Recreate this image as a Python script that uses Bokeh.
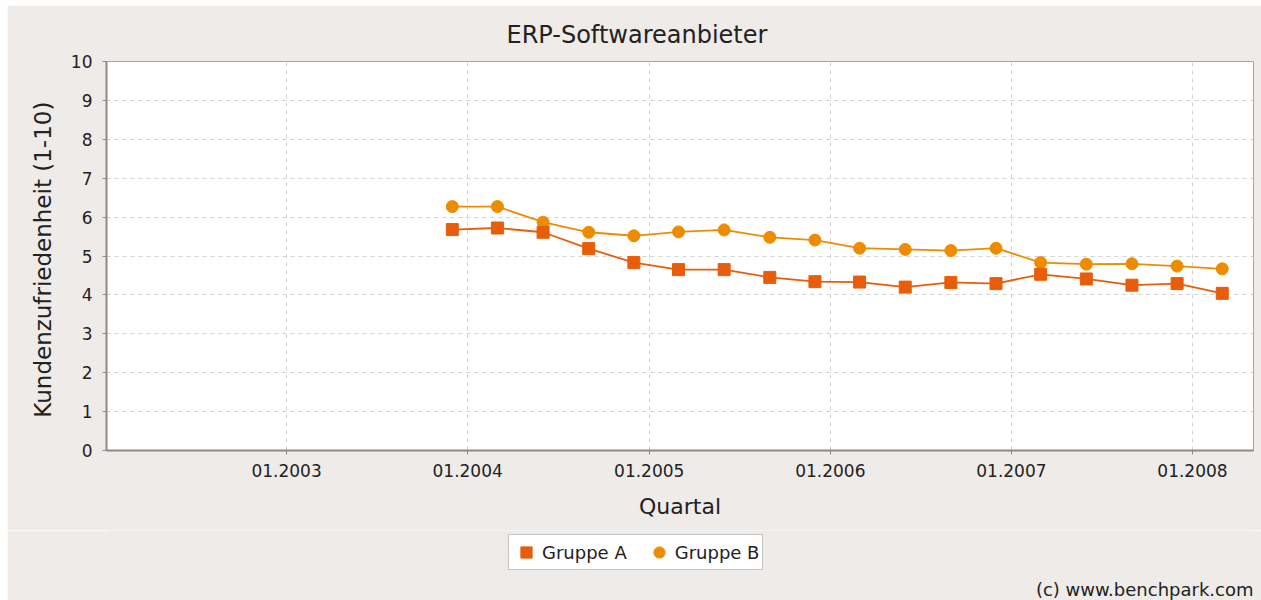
import pandas as pd
from bokeh.plotting import figure
from bokeh.layouts import column, row
from bokeh.models import (ColumnDataSource, FixedTicker, DatetimeTickFormatter, Range1d,
                          Legend, LegendItem, Label, Spacer)
from bokeh.embed import file_html
from bokeh.resources import INLINE

# ---------------- data ----------------
quarters = ["2003-12-01", "2004-03-01", "2004-06-01", "2004-09-01", "2004-12-01",
            "2005-03-01", "2005-06-01", "2005-09-01", "2005-12-01",
            "2006-03-01", "2006-06-01", "2006-09-01", "2006-12-01",
            "2007-03-01", "2007-06-01", "2007-09-01", "2007-12-01", "2008-03-01"]
gruppe_a = [5.68, 5.72, 5.61, 5.19, 4.83, 4.65, 4.65, 4.45, 4.34,
            4.33, 4.20, 4.32, 4.29, 4.53, 4.41, 4.25, 4.29, 4.04]
gruppe_b = [6.27, 6.27, 5.87, 5.61, 5.52, 5.62, 5.67, 5.48, 5.41,
            5.20, 5.17, 5.14, 5.20, 4.83, 4.79, 4.80, 4.74, 4.67]
year_ticks = ["2003-01-01", "2004-01-01", "2005-01-01", "2006-01-01", "2007-01-01", "2008-01-01"]
y_ticks = [0, 1, 2, 3, 4, 5, 6, 7, 8, 9, 10]
series_names = ["Gruppe A", "Gruppe B"]

TITLE = "ERP-Softwareanbieter"
X_LABEL = "Quartal"
Y_LABEL = "Kundenzufriedenheit  (1-10)"
CREDIT = "(c) www.benchpark.com"

COLOR_A = "#E85D0A"
COLOR_B = "#EE8C00"
BG = "#EEEBE8"
FONT = "DejaVu Sans"
TXT = "#222222"

src = ColumnDataSource(dict(date=pd.to_datetime(quarters), a=gruppe_a, b=gruppe_b))

W = 1254
TOP = 5
H1, H2 = 525, 70

# ---------------- main chart ----------------
p = figure(width=W, height=H1, x_axis_type="datetime",
           x_range=Range1d(start=pd.Timestamp("2002-01-03"), end=pd.Timestamp("2008-05-03")),
           y_range=Range1d(0, 10),
           output_backend="svg", toolbar_location=None,
           min_border_left=99, min_border_right=8, min_border_top=56, min_border_bottom=80)

p.background_fill_color = "white"
p.border_fill_color = BG
p.outline_line_color = "#a8a8a8"
p.outline_line_width = 1

p.title.text = TITLE
p.title.align = "left"
p.title.offset = 400
p.title.text_font = FONT
p.title.text_font_size = "24px"
p.title.text_font_style = "normal"
p.title.text_color = TXT
p.title.standoff = 26

year_ms = [pd.Timestamp(t).value // 10**6 for t in year_ticks]
p.xaxis.ticker = FixedTicker(ticks=year_ms)
fmt = "%m.%Y"
p.xaxis.formatter = DatetimeTickFormatter(microseconds=fmt, milliseconds=fmt, seconds=fmt,
                                          minsec=fmt, minutes=fmt, hourmin=fmt, hours=fmt,
                                          days=fmt, months=fmt, years=fmt)
p.yaxis.ticker = FixedTicker(ticks=y_ticks)
p.xaxis.axis_label = X_LABEL
p.yaxis.axis_label = Y_LABEL

for ax in (p.xaxis, p.yaxis):
    ax.axis_label_text_font = FONT
    ax.axis_label_text_font_style = "normal"
    ax.axis_label_text_font_size = "22px"
    ax.axis_label_text_color = TXT
    ax.major_label_text_font = FONT
    ax.major_label_text_font_size = "17px"
    ax.major_label_text_color = TXT
    ax.axis_line_color = "#8a8a8a"
    ax.axis_line_width = 2
    ax.major_tick_line_color = "#8a8a8a"
    ax.major_tick_out = 4
    ax.major_tick_in = 0
    ax.minor_tick_line_color = None

p.yaxis.axis_label_text_font_size = "23px"
p.yaxis.major_label_standoff = 10
p.yaxis.axis_label_standoff = 12
p.xaxis.major_label_standoff = 9
p.xaxis.axis_label_standoff = 14

for g in (p.xgrid, p.ygrid):
    g.grid_line_color = "#d2d2d2"
    g.grid_line_dash = "4 4"
    g.grid_line_width = 1

p.line(x="date", y="b", source=src, line_color=COLOR_B, line_width=1.8)
p.scatter(x="date", y="b", source=src, marker="circle", size=12,
          fill_color=COLOR_B, line_color=COLOR_B)
p.line(x="date", y="a", source=src, line_color=COLOR_A, line_width=1.8)
p.scatter(x="date", y="a", source=src, marker="square", size=12,
          fill_color=COLOR_A, line_color=COLOR_A)

# ---------------- footer strip: legend + credit ----------------
f = figure(width=W, height=H2, x_range=Range1d(0, W), y_range=Range1d(0, H2),
           output_backend="svg", toolbar_location=None,
           x_axis_location=None, y_axis_location=None,
           min_border=0, min_border_left=0, min_border_right=0,
           min_border_top=0, min_border_bottom=0)
f.background_fill_color = BG
f.background_fill_alpha = 1
f.border_fill_color = BG
f.outline_line_color = None
f.grid.grid_line_color = None

# legend swatches use the same series (dates lie far outside this strip's ranges)
la = f.scatter(x="date", y="a", source=src, marker="square", size=12,
               fill_color=COLOR_A, line_color=COLOR_A)
lb = f.scatter(x="date", y="b", source=src, marker="circle", size=12,
               fill_color=COLOR_B, line_color=COLOR_B)

legend = Legend(items=[LegendItem(label=series_names[0], renderers=[la]),
                       LegendItem(label=series_names[1], renderers=[lb])],
                location=(402, 30), orientation="horizontal",
                glyph_width=28, glyph_height=28, label_standoff=2, spacing=18,
                padding=3, margin=0,
                label_text_font=FONT, label_text_font_size="18px", label_text_color=TXT,
                border_line_color="#8a8a8a", border_line_width=1,
                background_fill_color="white", background_fill_alpha=1)
f.add_layout(legend)

f.add_layout(Label(x=1147, y=11, x_units="screen", y_units="screen", text=CREDIT,
                   text_align="right", text_baseline="middle",
                   text_font=FONT, text_font_size="18px", text_color=TXT))

layout = column(Spacer(height=TOP, width=W + 7),
                row(Spacer(width=7, height=H1 + H2), column(p, f, spacing=0), spacing=0),
                spacing=0)
open("out.html", "w").write(file_html(layout, INLINE))
